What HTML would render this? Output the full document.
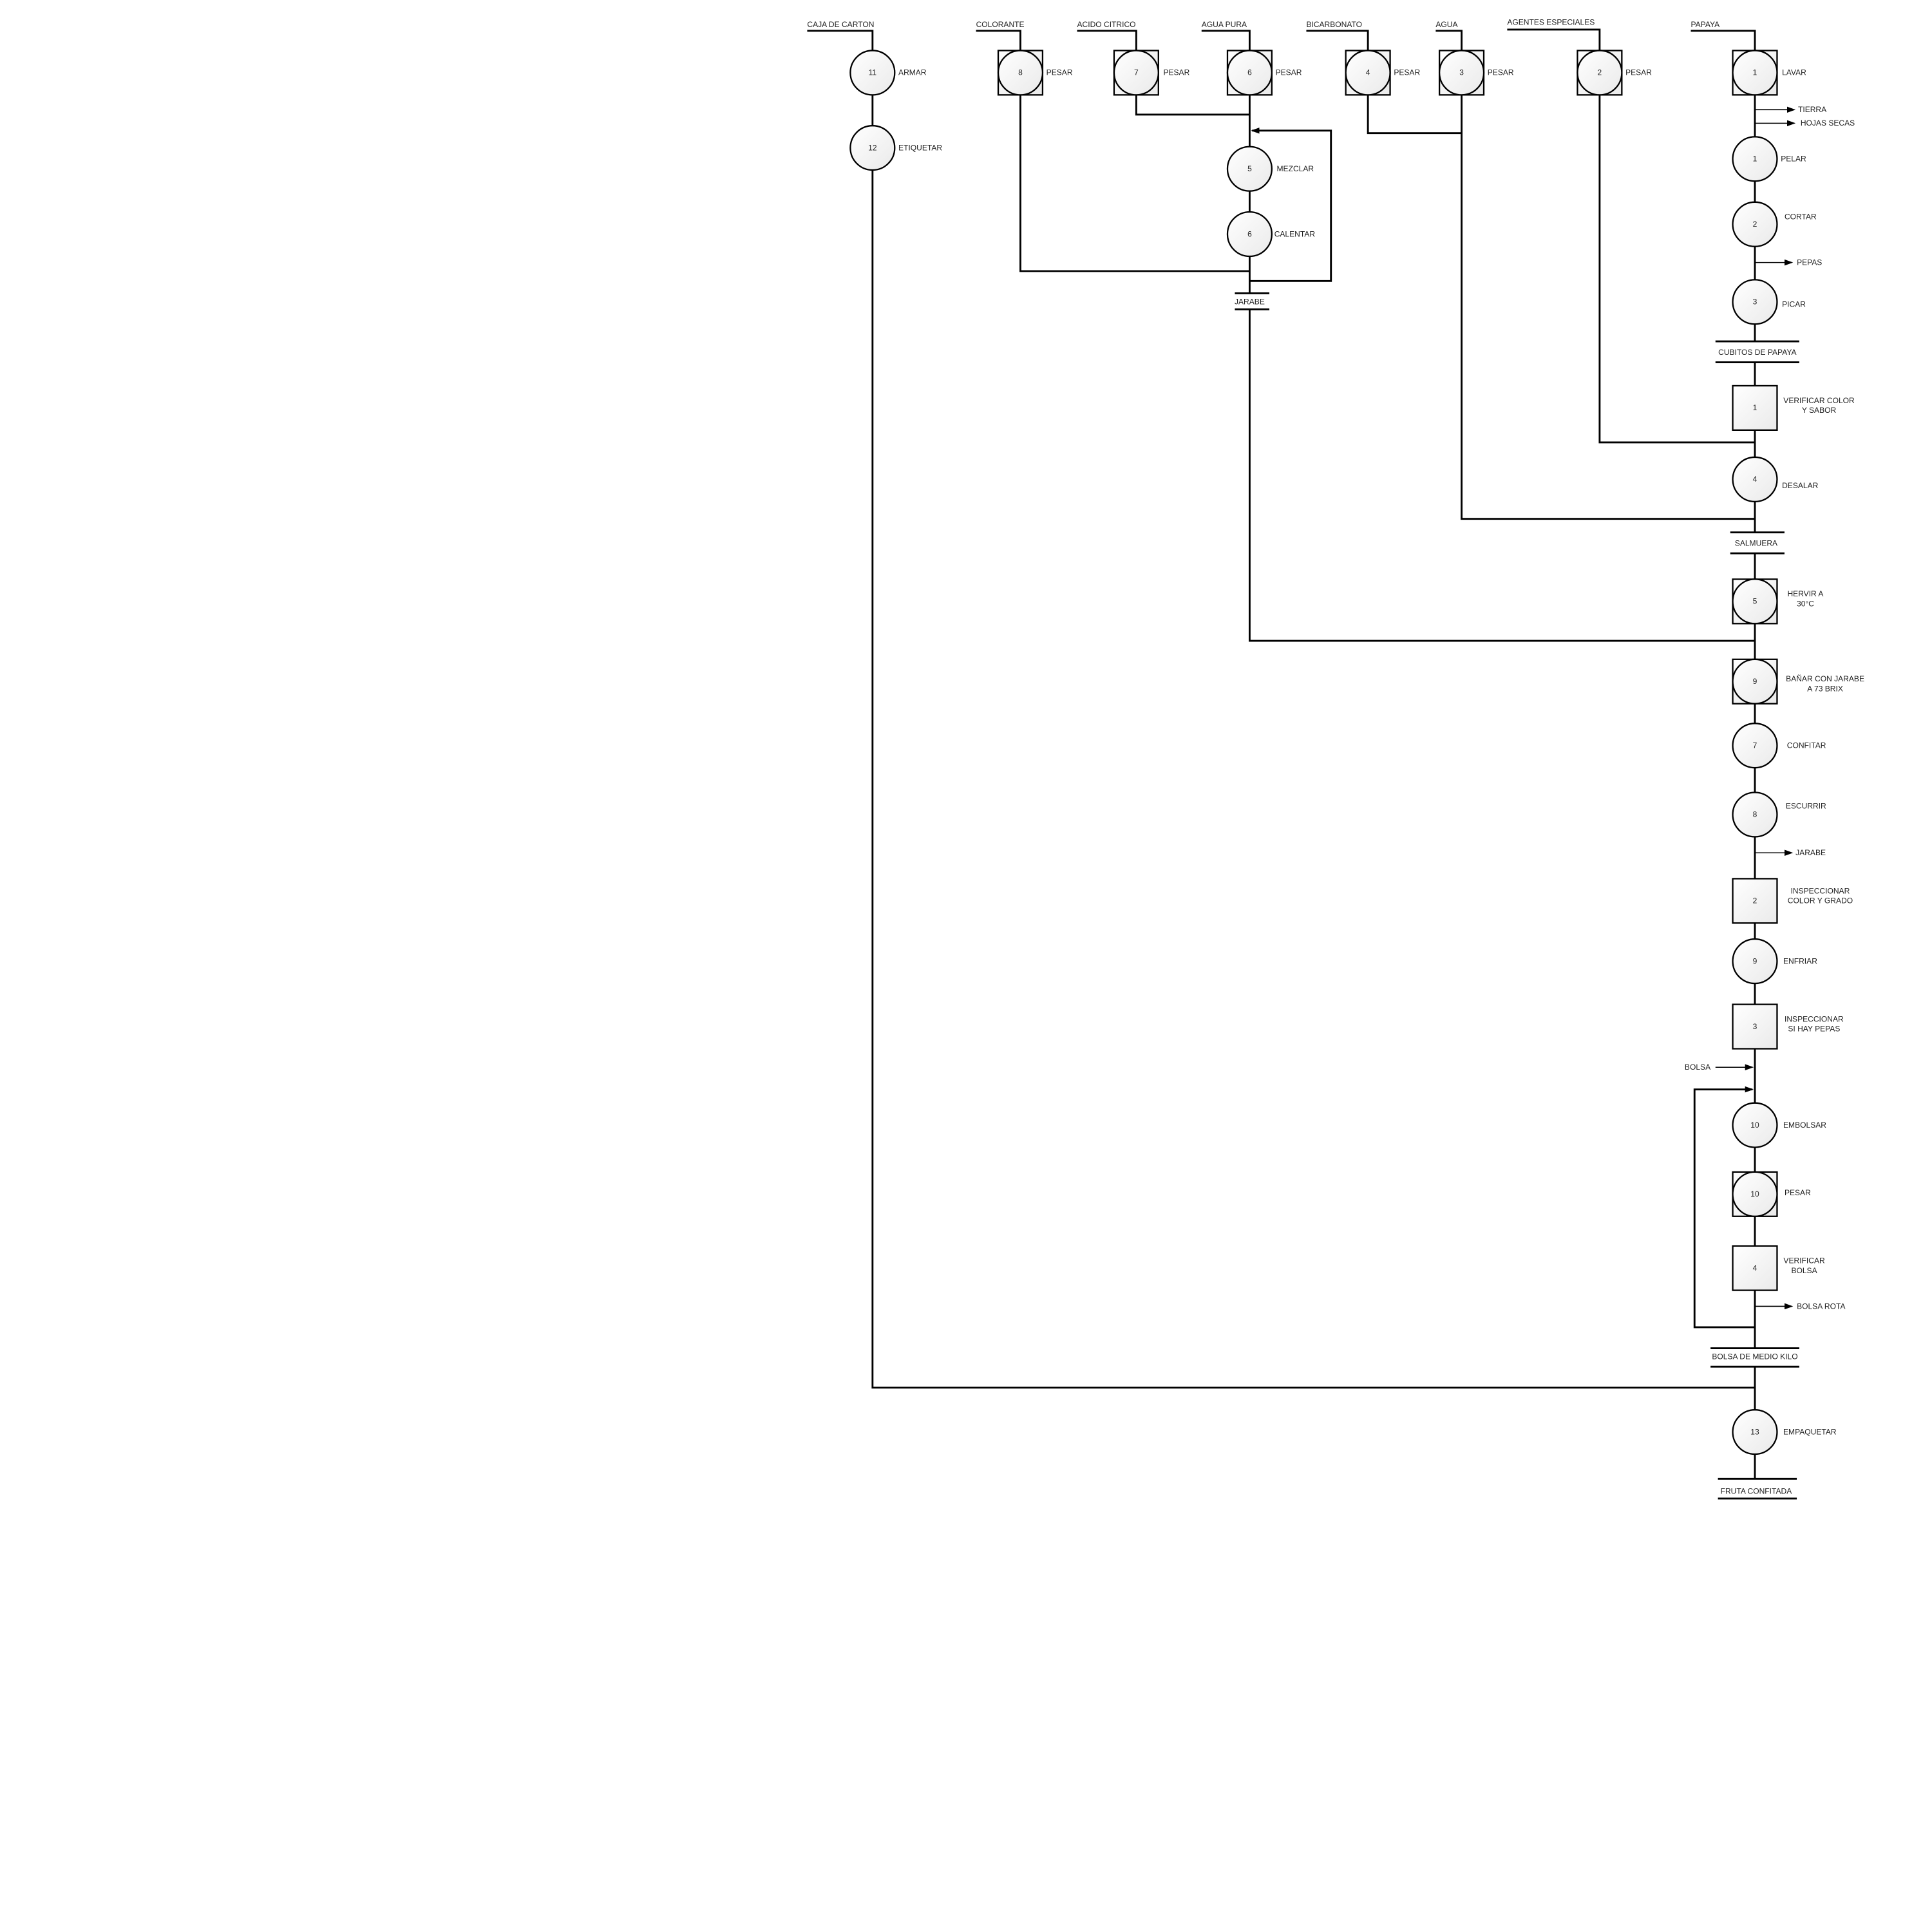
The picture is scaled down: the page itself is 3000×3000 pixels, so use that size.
<!DOCTYPE html>
<html><head><meta charset="utf-8"><style>html,body{margin:0;padding:0;background:#fff}svg{display:block}</style></head>
<body>
<svg width="3000" height="3000" viewBox="0 0 1567.7 1567.7" xmlns="http://www.w3.org/2000/svg" font-family="Liberation Sans, sans-serif" font-size="6.3" fill="#222">
<defs>
<linearGradient id="g" x1="0" y1="0" x2="1" y2="1"><stop offset="0" stop-color="#fff"/><stop offset="1" stop-color="#eaeaea"/></linearGradient>
<marker id="a" markerWidth="7" markerHeight="5" refX="6" refY="2.5" orient="auto" markerUnits="userSpaceOnUse"><path d="M0,0 L7,2.5 L0,5z" fill="#000"/></marker>
</defs>
<g fill="none" stroke="#000" stroke-width="1.5">
<path d="M655,25H708V1126H1424"/>
<path d="M792,25H828V220H1014"/>
<path d="M874,25H922V93H1014"/>
<path d="M975,25H1014V238"/>
<path d="M1014,251V520H1424"/>
<path d="M1014,228H1080V106H1016" marker-end="url(#a)"/>
<path d="M1060,25H1110V108H1186"/>
<path d="M1165,25H1186V421H1424"/>
<path d="M1223,24H1298V359H1424"/>
<path d="M1372,25H1424V277"/>
<path d="M1424,294V432"/>
<path d="M1424,449V1094"/>
<path d="M1424,1109V1200"/>
<path d="M1424,1077H1375V884H1422" marker-end="url(#a)"/>
<path d="M1392,866H1422" stroke-width="0.8" marker-end="url(#a)"/>
<g stroke-width="0.8">
<path d="M1424,89H1456" marker-end="url(#a)"/>
<path d="M1424,100H1456" marker-end="url(#a)"/>
<path d="M1424,213H1454" marker-end="url(#a)"/>
<path d="M1424,692H1454" marker-end="url(#a)"/>
<path d="M1424,1060H1454" marker-end="url(#a)"/>
</g>
<path d="M1002,238H1030M1002,251H1030"/>
<path d="M1392,277H1460M1392,294H1460"/>
<path d="M1404,432H1448M1404,449H1448"/>
<path d="M1388,1094H1460M1388,1109H1460"/>
<path d="M1394,1200H1458M1394,1216H1458"/>
</g>
<g stroke="#000" stroke-width="1.2" fill="url(#g)">
<rect x="810" y="41" width="36" height="36"/>
<rect x="904" y="41" width="36" height="36"/>
<rect x="996" y="41" width="36" height="36"/>
<rect x="1092" y="41" width="36" height="36"/>
<rect x="1168" y="41" width="36" height="36"/>
<rect x="1280" y="41" width="36" height="36"/>
<rect x="1406" y="41" width="36" height="36"/>
<rect x="1406" y="313" width="36" height="36"/>
<rect x="1406" y="470" width="36" height="36"/>
<rect x="1406" y="535" width="36" height="36"/>
<rect x="1406" y="713" width="36" height="36"/>
<rect x="1406" y="815" width="36" height="36"/>
<rect x="1406" y="951" width="36" height="36"/>
<rect x="1406" y="1011" width="36" height="36"/>
<circle cx="708" cy="59" r="18"/><circle cx="708" cy="120" r="18"/>
<circle cx="828" cy="59" r="18"/><circle cx="922" cy="59" r="18"/><circle cx="1014" cy="59" r="18"/>
<circle cx="1110" cy="59" r="18"/><circle cx="1186" cy="59" r="18"/><circle cx="1298" cy="59" r="18"/>
<circle cx="1424" cy="59" r="18"/>
<circle cx="1014" cy="137" r="18"/><circle cx="1014" cy="190" r="18"/>
<circle cx="1424" cy="129" r="18"/><circle cx="1424" cy="182" r="18"/><circle cx="1424" cy="245" r="18"/>
<circle cx="1424" cy="389" r="18"/><circle cx="1424" cy="488" r="18"/><circle cx="1424" cy="553" r="18"/>
<circle cx="1424" cy="605" r="18"/><circle cx="1424" cy="661" r="18"/><circle cx="1424" cy="780" r="18"/>
<circle cx="1424" cy="913" r="18"/><circle cx="1424" cy="969" r="18"/><circle cx="1424" cy="1162" r="18"/>
</g>
<g text-anchor="middle">
<text x="708" y="61">11</text><text x="708" y="122">12</text>
<text x="828" y="61">8</text><text x="922" y="61">7</text><text x="1014" y="61">6</text>
<text x="1110" y="61">4</text><text x="1186" y="61">3</text><text x="1298" y="61">2</text><text x="1424" y="61">1</text>
<text x="1014" y="139">5</text><text x="1014" y="192">6</text>
<text x="1424" y="131">1</text><text x="1424" y="184">2</text><text x="1424" y="247">3</text>
<text x="1424" y="333">1</text><text x="1424" y="391">4</text><text x="1424" y="490">5</text>
<text x="1424" y="555">9</text><text x="1424" y="607">7</text><text x="1424" y="663">8</text>
<text x="1424" y="733">2</text><text x="1424" y="782">9</text><text x="1424" y="835">3</text>
<text x="1424" y="915">10</text><text x="1424" y="971">10</text><text x="1424" y="1031">4</text>
<text x="1424" y="1164">13</text>
<text x="1014" y="247">JARABE</text>
<text x="1426" y="288">CUBITOS DE PAPAYA</text>
<text x="1425" y="443">SALMUERA</text>
<text x="1424" y="1103">BOLSA DE MEDIO KILO</text>
<text x="1425" y="1212">FRUTA CONFITADA</text>
<text x="1476" y="327">VERIFICAR COLOR</text><text x="1476" y="335">Y SABOR</text>
<text x="1465" y="484">HERVIR A</text><text x="1465" y="492">30°C</text>
<text x="1481" y="553">BAÑAR CON JARABE</text><text x="1481" y="561">A 73 BRIX</text>
<text x="1477" y="725">INSPECCIONAR</text><text x="1477" y="733">COLOR Y GRADO</text>
<text x="1472" y="829">INSPECCIONAR</text><text x="1472" y="837">SI HAY PEPAS</text>
<text x="1464" y="1025">VERIFICAR</text><text x="1464" y="1033">BOLSA</text>
</g>
<g>
<text x="655" y="22">CAJA DE CARTON</text><text x="792" y="22">COLORANTE</text><text x="874" y="22">ACIDO CITRICO</text>
<text x="975" y="22">AGUA PURA</text><text x="1060" y="22">BICARBONATO</text><text x="1165" y="22">AGUA</text>
<text x="1223" y="20">AGENTES ESPECIALES</text><text x="1372" y="22">PAPAYA</text>
<text x="729" y="61">ARMAR</text><text x="729" y="122">ETIQUETAR</text>
<text x="849" y="61">PESAR</text><text x="944" y="61">PESAR</text><text x="1035" y="61">PESAR</text>
<text x="1131" y="61">PESAR</text><text x="1207" y="61">PESAR</text><text x="1319" y="61">PESAR</text>
<text x="1446" y="61">LAVAR</text>
<text x="1036" y="139">MEZCLAR</text><text x="1034" y="192">CALENTAR</text>
<text x="1459" y="91">TIERRA</text><text x="1461" y="102">HOJAS SECAS</text>
<text x="1445" y="131">PELAR</text><text x="1448" y="178">CORTAR</text><text x="1458" y="215">PEPAS</text>
<text x="1446" y="249">PICAR</text><text x="1446" y="396">DESALAR</text>
<text x="1450" y="607">CONFITAR</text><text x="1449" y="656">ESCURRIR</text><text x="1457" y="694">JARABE</text>
<text x="1447" y="782">ENFRIAR</text><text x="1367" y="868">BOLSA</text>
<text x="1447" y="915">EMBOLSAR</text><text x="1448" y="970">PESAR</text>
<text x="1458" y="1062">BOLSA ROTA</text><text x="1447" y="1164">EMPAQUETAR</text>
</g>
</svg>
</body></html>
